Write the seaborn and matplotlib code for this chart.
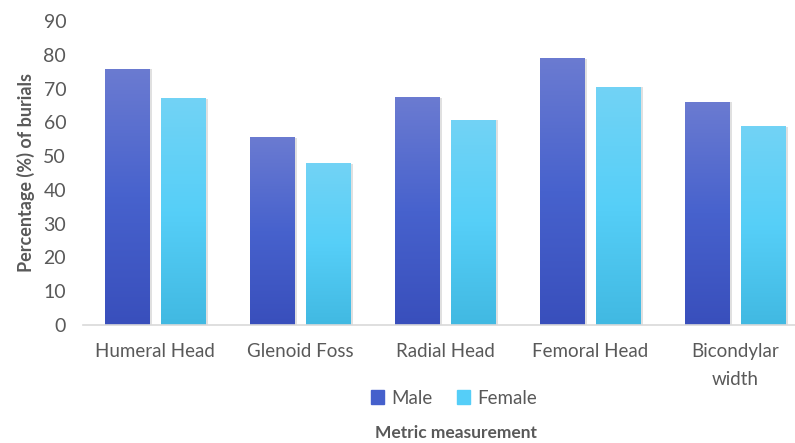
import numpy as np
import pandas as pd
import seaborn as sns
import matplotlib.pyplot as plt
from matplotlib.colors import LinearSegmentedColormap
from matplotlib import patheffects as pe

# ---------- Data ----------
measurements = ["Humeral Head", "Glenoid Foss", "Radial Head", "Femoral Head", "Bicondylar\nwidth"]
male = [75.9, 55.7, 67.4, 79.1, 66.1]
female = [67.2, 47.9, 60.8, 70.6, 58.8]

df = pd.DataFrame({
    "measurement": measurements * 2,
    "sex": ["Male"] * len(measurements) + ["Female"] * len(measurements),
    "pct": male + female,
})

# gradient colours (top, middle, bottom) as Office draws them
grad = {
    "Male": ["#6b7bd1", "#4762cd", "#394fbc"],
    "Female": ["#72d3f5", "#56cff8", "#41b9e2"],
}
solid = {"Male": "#4560cc", "Female": "#55cef8"}

sns.set_theme(style="white")
plt.rcParams["font.family"] = ["Lato", "DejaVu Sans"]
text_col = "#595959"

fig = plt.figure(figsize=(7.95, 4.43), dpi=100)
ax = fig.add_axes([82.8 / 795, 1 - 325 / 443, 725 / 795, 304 / 443])

sns.barplot(data=df, x="measurement", y="pct", hue="sex", palette=solid,
            width=0.774, gap=0.2, ax=ax, legend=False, saturation=1)

# replace flat fills with vertical gradients
sexes = ["Male", "Female"]
for i, cont in enumerate(ax.containers):
    cmap = LinearSegmentedColormap.from_list("g", grad[sexes[i]][::-1])
    for bar in cont:
        x0, y0 = bar.get_x(), bar.get_y()
        w, h = bar.get_width(), bar.get_height()
        bar.set_facecolor("none")
        bar.set_edgecolor("none")
        bar.set_path_effects([pe.SimplePatchShadow(offset=(1.5, -0.5), shadow_rgbFace="#000000", alpha=0.12),
                              pe.Normal()])
        img = ax.imshow(np.linspace(0, 1, 128).reshape(-1, 1), cmap=cmap, origin="lower",
                        extent=[x0, x0 + w, y0, y0 + h], aspect="auto", zorder=2)
        img.set_clip_path(bar)
ax.set_xlim(-0.5, 4.5)
ax.set_ylim(0, 90)
ax.set_yticks(range(0, 91, 10))

for s in ["top", "right", "left"]:
    ax.spines[s].set_visible(False)
ax.spines["bottom"].set_color("#d9d9d9")
ax.spines["bottom"].set_linewidth(1.2)
ax.tick_params(axis="x", length=0, colors=text_col, labelsize=13.5, pad=13)
ax.tick_params(axis="y", length=0, colors=text_col, labelsize=14, pad=12)
for lbl in ax.get_xticklabels():
    lbl.set_linespacing(1.8)
    lbl.set_verticalalignment("top")

ax.set_ylabel("Percentage (%) of burials", color=text_col, fontsize=13, fontweight="bold", labelpad=6)
ax.set_xlabel("")
fig.text(456 / 795, 1 - 433 / 443, "Metric measurement", color=text_col, fontsize=12.5,
         fontweight="bold", ha="center", va="center")

handles = [plt.Rectangle((0, 0), 1, 1, color=solid[s]) for s in sexes]
ax.legend(handles, sexes, loc="center", bbox_to_anchor=(454 / 795, 1 - 398 / 443),
          bbox_transform=fig.transFigure, ncol=2, frameon=False, fontsize=13.5,
          handlelength=0.7, handleheight=0.7, handletextpad=0.4, columnspacing=1.3,
          labelcolor=text_col)

fig.savefig("out.png", dpi=100)
